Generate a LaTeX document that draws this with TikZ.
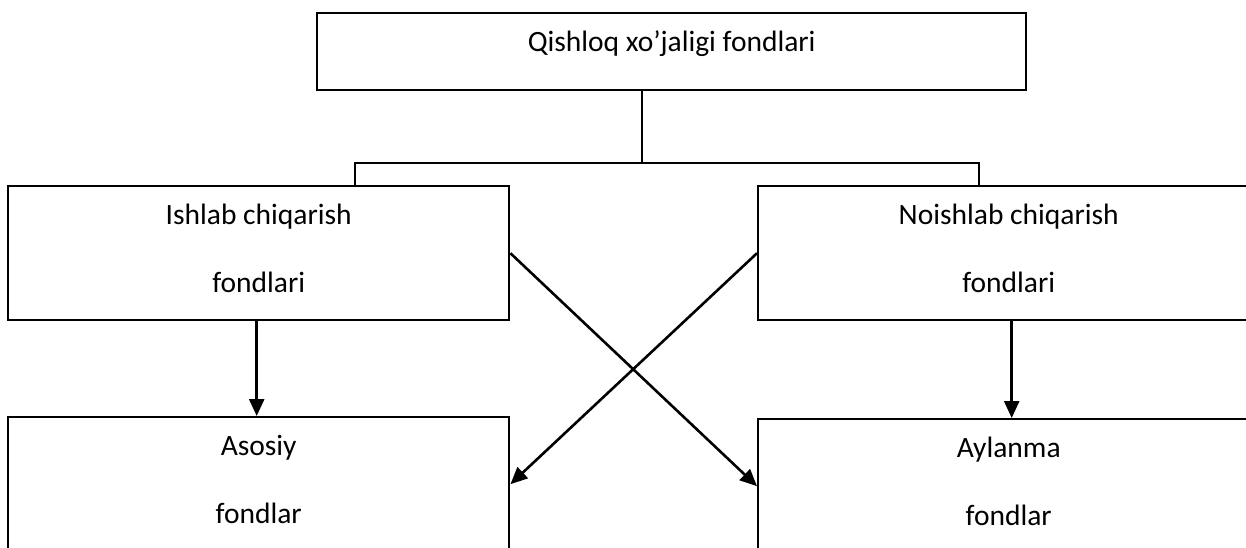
\documentclass[tikz,border=0pt]{standalone}
\usepackage{fontspec}
\setmainfont{Carlito}
\usetikzlibrary{arrows.meta}
\begin{document}
\begin{tikzpicture}[x=1pt,y=-1pt,
  box/.style={draw,line width=2.4pt,minimum width=501pt,minimum height=134pt,anchor=north west,inner sep=0pt},
  lbl/.style={anchor=base,font=\fontsize{29.5}{34}\selectfont,inner sep=0pt},
  link/.style={line width=2.4pt},
  arr/.style={line width=2.6pt,-{Triangle[length=17pt,width=15pt]}}]
\useasboundingbox (0,0) rectangle (1246,547);
\clip (0,0) rectangle (1246,547);
\node[box,minimum width=709pt,minimum height=77pt] (top) at (316,12) {};
\node[box] (ish) at (7,185) {};
\node[box] (noi) at (757,185) {};
\node[box] (aso) at (7,416) {};
\node[box] (ayl) at (757,418) {};
\node[lbl] (topt) at ([yshift=-39pt]top.north) {Qishloq xo’jaligi fondlari};
\node[lbl] (isht1) at ([yshift=-39pt]ish.north) {Ishlab chiqarish};
\node[lbl] (isht2) at ([yshift=-107pt]ish.north) {fondlari};
\node[lbl] (noit1) at ([yshift=-39pt]noi.north) {Noishlab chiqarish};
\node[lbl] (noit2) at ([yshift=-107pt]noi.north) {fondlari};
\node[lbl] (asot1) at ([yshift=-39pt]aso.north) {Asosiy};
\node[lbl] (asot2) at ([yshift=-107pt]aso.north) {fondlar};
\node[lbl] (aylt1) at ([yshift=-39pt]ayl.north) {Aylanma};
\node[lbl] (aylt2) at ([yshift=-107pt]ayl.north) {fondlar};
\coordinate (jc) at (642,163);
\coordinate (jl) at (355,163);
\coordinate (jr) at (979,163);
\draw[link] (top.south -| jc) -- (jc);
\draw[link] (jl |- ish.north) -- (jl) -- (jr) -- (jr |- noi.north);
\draw[arr] ([xshift=-2pt]ish.south) -- ([xshift=-2pt]aso.north);
\draw[arr] ([xshift=3pt]noi.south) -- ([xshift=3pt]ayl.north);
\draw[arr] (ish.east) -- (ayl.west);
\draw[arr] (noi.west) -- (aso.east);
\end{tikzpicture}
\end{document}
